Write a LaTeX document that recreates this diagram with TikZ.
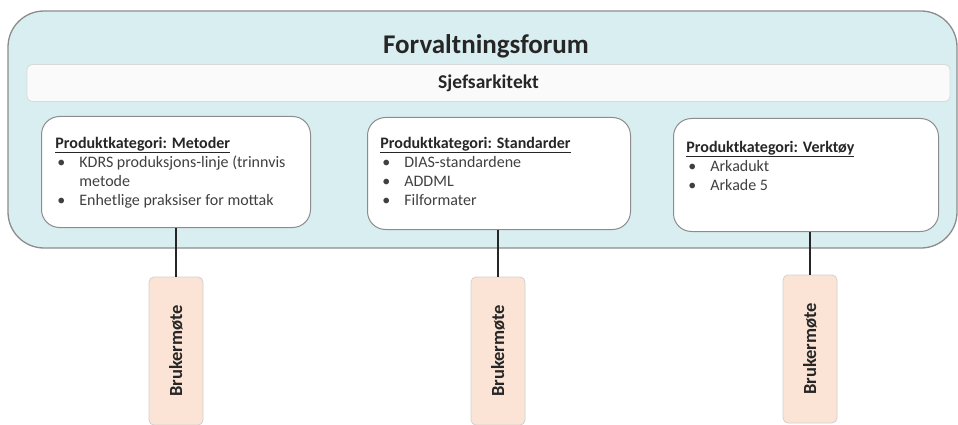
\documentclass[tikz,border=0pt]{standalone}
\usepackage{fontspec}
\setmainfont{Carlito}
\usetikzlibrary{positioning,fit,shapes,calc}
\definecolor{forumfill}{RGB}{217,238,240}
\definecolor{framegray}{RGB}{140,140,140}
\definecolor{motefill}{RGB}{251,228,213}
\definecolor{textgray}{RGB}{64,64,64}
\definecolor{darktext}{RGB}{38,38,38}

\newcommand{\kat}[1]{\leavevmode{\bfseries\color{darktext}\underline{#1}}\\}
\newcommand{\punkt}{\makebox[24pt][l]{\hspace{2pt}\textbullet}}

\begin{document}
\begin{tikzpicture}[x=1pt,y=-1pt,thick]
\tikzstyle{every node}=[font=\fontsize{16}{19}\selectfont,text=textgray]
\tikzstyle{kategori}=[rectangle,rounded corners=18pt,draw=framegray,fill=white,line width=1pt,anchor=north west]
\tikzstyle{liste}=[anchor=base west,inner sep=0pt]
\tikzstyle{mote}=[rectangle,rotate=90,rounded corners=5pt,draw=black!18,fill=motefill,line width=0.8pt,minimum width=148pt,minimum height=54pt,font=\bfseries\fontsize{18.5}{20}\selectfont,text=darktext]
\useasboundingbox (0,0) rectangle (958,425);
% the forum frame
\draw[fill=forumfill,draw=framegray,line width=1.3pt,rounded corners=36pt] (8,11) rectangle (957,248);
\node[font=\bfseries\fontsize{27}{30}\selectfont,text=darktext] (forum) at (486,46) {Forvaltningsforum};
\node[rectangle,rounded corners=5pt,draw=black!15,fill=black!2,line width=0.8pt,minimum width=923pt,minimum height=37pt,font=\bfseries\fontsize{19.5}{22}\selectfont,text=darktext] (sjef) at (488.5,83) {Sjefsarkitekt};
% the three product categories
\node[kategori,minimum width=269pt,minimum height=111pt] (met) at (41,116) {};
\node[kategori,minimum width=263pt,minimum height=112pt] (std) at (367,117) {};
\node[kategori,minimum width=265pt,minimum height=113pt] (verk) at (673,118) {};
\node[liste] (metliste) at ($(met.north west)+(14,32)$) {\parbox[t]{250pt}{\kat{Produktkategori: Metoder}
\punkt KDRS produksjons-linje (trinnvis\\
\hspace*{24pt}metode\\
\punkt Enhetlige praksiser for mottak}};
\node[liste] (stdliste) at ($(std.north west)+(13,31)$) {\parbox[t]{240pt}{\kat{Produktkategori: Standarder}
\punkt DIAS-standardene\\
\punkt ADDML\\
\punkt Filformater}};
\node[liste] (verkliste) at ($(verk.north west)+(13,34)$) {\parbox[t]{240pt}{\kat{Produktkategori: Verktøy}
\punkt Arkadukt\\
\punkt Arkade 5}};
% user meetings
\node[mote] (moteA) at (176,351) {Brukermøte};
\node[mote] (moteB) at (498,351) {Brukermøte};
\node[mote] (moteC) at (810,349) {Brukermøte};
\draw[line width=1.5pt,darktext] (moteA.east) -- (moteA.east |- met.south);
\draw[line width=1.5pt,darktext] (moteB.east) -- (moteB.east |- std.south);
\draw[line width=1.5pt,darktext] (moteC.east) -- (moteC.east |- verk.south);
\end{tikzpicture}
\end{document}
